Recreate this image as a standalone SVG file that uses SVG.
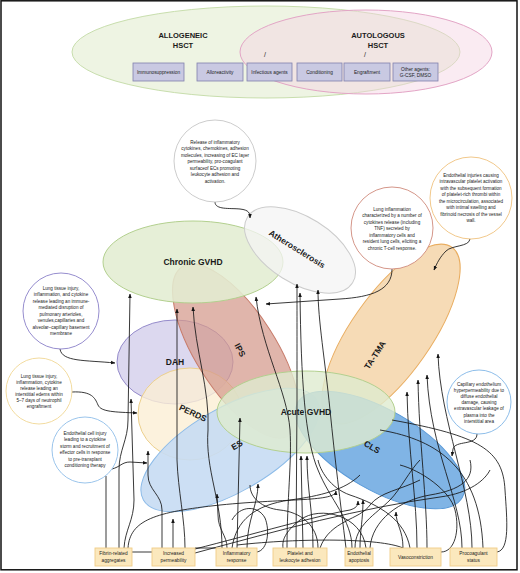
<svg xmlns="http://www.w3.org/2000/svg" width="520" height="573" viewBox="0 0 520 573">
<style>
.lbl{font-family:"Liberation Sans",Arial,sans-serif;font-weight:bold;fill:#1a1a1a;text-anchor:middle}
.big{font-size:8.5px}
.top{font-size:7.5px}
.sm{font-family:"Liberation Sans",Arial,sans-serif;font-size:4.6px;fill:#222;text-anchor:middle}
.bx{font-family:"Liberation Sans",Arial,sans-serif;font-size:4.8px;fill:#222;text-anchor:middle}
.tbox{fill:#c9c9e2;stroke:#8080ad;stroke-width:0.8}
.bbox{fill:#fbe8bd;stroke:#efcd87;stroke-width:0.9}
.c{fill:none;stroke:#151515;stroke-width:0.85}
.info{fill:#fff;stroke-width:0.9}
</style>
<defs>
<marker id="ah" viewBox="0 0 10 10" refX="9" refY="5" markerUnits="userSpaceOnUse" markerWidth="4.5" markerHeight="4.5" orient="auto"><path d="M0,1 L10,5 L0,9 z" fill="#151515"/></marker>
</defs>
<rect x="0" y="0" width="520" height="573" fill="#fff"/>
<rect x="1" y="0.8" width="516" height="569" fill="none" stroke="#111" stroke-width="1.5"/>

<g id="hsct">
<ellipse cx="266" cy="52" rx="194" ry="46" fill="#eef4e3" stroke="#c8dead" stroke-width="1"/>
<ellipse cx="366" cy="52" rx="126" ry="42" fill="#f5d3e3" fill-opacity="0.45" stroke="#e3a5c6" stroke-width="1"/>
<text class="lbl top" x="183" y="38">ALLOGENEIC</text>
<text class="lbl top" x="183" y="48">HSCT</text>
<text class="lbl top" x="378" y="38">AUTOLOGOUS</text>
<text class="lbl top" x="378" y="48">HSCT</text>
<text class="bx" x="265" y="57" style="font-size:7px">/</text>
<text class="bx" x="365" y="57" style="font-size:7px">/</text>
</g>
<g id="agents">
<rect class="tbox" x="133" y="63" width="51" height="18"/><text class="bx" x="158.5" y="73.8">Immunosuppression</text>
<rect class="tbox" x="197" y="63" width="46" height="18"/><text class="bx" x="220" y="73.8">Alloreactivity</text>
<rect class="tbox" x="247" y="63" width="45" height="18"/><text class="bx" x="269.5" y="73.8">Infectious agents</text>
<rect class="tbox" x="297" y="63" width="45" height="18"/><text class="bx" x="319.5" y="73.8">Conditioning</text>
<rect class="tbox" x="344" y="63" width="46" height="18"/><text class="bx" x="367" y="73.8">Engraftment</text>
<rect class="tbox" x="393" y="63" width="45" height="18"/><text class="bx" x="415.5" y="70.5">Other agents:</text><text class="bx" x="415.5" y="77">G-CSF, DMSO</text>
</g>

<g id="ellipses">
<g id="dah"><ellipse cx="175" cy="362" rx="58" ry="42" fill="#dcd8ef" stroke="#958bcb" stroke-width="1"/></g>
<g id="perds"><ellipse cx="190" cy="414" rx="52" ry="46" fill="#fbefd4" fill-opacity="0.8" stroke="#ecd08d" stroke-width="1"/></g>
<g id="ips"><ellipse cx="236" cy="351" rx="100" ry="40" transform="rotate(57.5 236 351)" fill="#d4988b" fill-opacity="0.72" stroke="#c77b6a" stroke-width="1"/></g>
<g id="chronic-gvhd"><ellipse cx="193" cy="262" rx="90" ry="41" fill="#e2edd2" fill-opacity="0.88" stroke="#b3d08f" stroke-width="1"/></g>
<g id="atherosclerosis"><ellipse cx="300" cy="250" rx="62" ry="33" transform="rotate(32 300 250)" fill="#f4f4f4" fill-opacity="0.75" stroke="#cccccc" stroke-width="1"/></g>
<g id="ta-tma"><ellipse cx="391" cy="334" rx="106" ry="40" transform="rotate(-55 391 334)" fill="#f5d7ae" fill-opacity="0.9" stroke="#e9ad60" stroke-width="1"/></g>
<g id="es"><ellipse cx="230" cy="450" rx="100" ry="42" transform="rotate(-30 230 450)" fill="#c7dcf3" fill-opacity="0.9" stroke="#8cbbe8" stroke-width="1"/></g>
<g id="cls"><ellipse cx="380" cy="450" rx="95" ry="40" transform="rotate(30 380 450)" fill="#72ace2" fill-opacity="0.9" stroke="#5a9ad8" stroke-width="1"/></g>
<g id="acute-gvhd"><ellipse cx="306" cy="412" rx="89" ry="41" fill="#dfebcf" fill-opacity="0.8" stroke="#b3d08f" stroke-width="1"/></g>
</g>

<g id="connectors">
<path class="c" marker-end="url(#ah)" d="M215 202 C215 210 230 208 240 209 C249 210 250 213 250 218"/>
<path class="c" marker-end="url(#ah)" d="M392 269 C392 290 372 297 340 299 L266 304"/>
<path class="c" marker-end="url(#ah)" d="M470 239 C469 247 452 245 446 251 C440 257 437 263 434 270"/>
<path class="c" marker-end="url(#ah)" d="M60 349 C62 362 85 360 115 363"/>
<path class="c" marker-end="url(#ah)" d="M72 392 C92 391 95 398 98 405 C101 412 115 412 137 413"/>
<path class="c" marker-end="url(#ah)" d="M112 469 C120 467 122 462 130 462 L147 463"/>
<path class="c" marker-end="url(#ah)" d="M477 434 C477 446 455 440 453 449 L452 456"/>

<path class="c" marker-end="url(#ah)" d="M119 548 L119 470 C119 450 128 440 128 420 L130 294"/>
<path class="c" d="M106 548 L106 476"/>
<path class="c" marker-end="url(#ah)" d="M124 548 C125 530 134 520 134 500 L131 399"/>
<path class="c" marker-end="url(#ah)" d="M128 548 C130 520 155 512 220 505 C290 498 335 502 336 491"/>
<path class="c" marker-end="url(#ah)" d="M162 548 L162 510 C162 495 148 490 148 475 L148 451"/>
<path class="c" marker-end="url(#ah)" d="M173 548 L173 519"/>
<path class="c" marker-end="url(#ah)" d="M185 548 C185 520 178 490 177 460 L177 309"/>
<path class="c" marker-end="url(#ah)" d="M195 549 C250 535 320 515 350 510 C356 508 358 506 358 501"/>
<path class="c" d="M195 553 C280 530 360 508 440 497 C470 493 485 480 490 470"/>
<path class="c" d="M132 552 L152 552"/>
<path class="c" d="M195 548 L216 548"/>
<path class="c" marker-end="url(#ah)" d="M222 548 C222 500 205 470 208 430 C210 390 195 350 193 307"/>
<path class="c" marker-end="url(#ah)" d="M227 548 C227 535 218 530 218 515 L217 494"/>
<path class="c" marker-end="url(#ah)" d="M237 548 L240 418"/>
<path class="c" marker-end="url(#ah)" d="M247 548 C247 520 258 505 258 484"/>
<path class="c" d="M257 552 C268 550 270 530 265 518 C258 505 240 505 232 520"/>
<path class="c" d="M237 545 C300 538 380 538 403 548"/>
<path class="c" d="M232 548 C236 520 255 505 290 500 C320 496 345 490 360 475"/>
<path class="c" d="M318 548 C318 525 300 512 280 510 C262 508 250 498 250 485"/>
<path class="c" d="M355 548 C355 525 375 515 390 500 C400 490 410 470 420 460"/>
<path class="c" d="M441 552 C455 552 460 530 455 510 C450 490 420 470 400 465"/>
<path class="c" d="M410 548 C405 520 380 505 350 495 C330 488 320 470 318 460"/>
<path class="c" marker-end="url(#ah)" d="M287 548 C287 500 292 460 290 430 C287 390 262 350 256 297"/>
<path class="c" marker-end="url(#ah)" d="M296 548 L297 400 C297 340 297 310 297 284"/>
<path class="c" marker-end="url(#ah)" d="M303 548 L301 456"/>
<path class="c" marker-end="url(#ah)" d="M313 548 C313 510 307 490 307 456"/>
<path class="c" marker-end="url(#ah)" d="M352 548 C352 520 330 500 318 470 C305 440 301 380 300 293"/>
<path class="c" marker-end="url(#ah)" d="M346 548 C340 500 335 460 330 410 C325 360 318 320 318 290"/>
<path class="c" marker-end="url(#ah)" d="M360 548 C360 530 363 520 363 500"/>
<path class="c" d="M366 548 C362 515 320 505 300 520 C285 532 282 540 283 548"/>
<path class="c" d="M320 548 C330 520 360 520 370 505 C380 492 400 490 420 480"/>
<path class="c" marker-end="url(#ah)" d="M403 548 C403 530 396 525 396 512"/>
<path class="c" marker-end="url(#ah)" d="M417 548 C417 500 408 450 407 392"/>
<path class="c" marker-end="url(#ah)" d="M427 548 C427 500 419 440 418 380"/>
<path class="c" marker-end="url(#ah)" d="M462 548 C462 500 430 450 427 375"/>
<path class="c" marker-end="url(#ah)" d="M472 548 C472 490 440 420 438 354"/>
<path class="c" d="M483 548 C480 470 440 440 380 430"/>
<path class="c" d="M497 552 C510 550 507 520 505 490 C503 450 480 436 392 420"/>
<path class="c" d="M370 548 C372 520 400 500 430 495 C460 490 475 480 470 460"/>
</g>

<g id="labels">
<text class="lbl big" x="193" y="265">Chronic GVHD</text>
<text class="lbl big" x="297" y="252" transform="rotate(32 297 249)">Atherosclerosis</text>
<text class="lbl big" x="175" y="365">DAH</text>
<text class="lbl big" x="240" y="353" transform="rotate(62 240 350)">IPS</text>
<text class="lbl big" x="193" y="416" transform="rotate(25 193 413)">PERDS</text>
<text class="lbl big" x="375" y="358" transform="rotate(-57 375 355)">TA-TMA</text>
<text class="lbl big" x="237" y="448" transform="rotate(-30 237 445)">ES</text>
<text class="lbl big" x="372" y="450" transform="rotate(30 372 447)">CLS</text>
<text class="lbl big" x="306" y="415">Acute GVHD</text>
</g>

<g id="info-atherosclerosis">
<circle class="info" cx="215" cy="161" r="41" stroke="#c6c6c6"/>
<text class="sm" x="215" y="143.5">Release of inflammatory</text>
<text class="sm" x="215" y="150">cytokines, chemokines, adhesion</text>
<text class="sm" x="215" y="156.5">molecules, increasing of EC layer</text>
<text class="sm" x="215" y="163">permeability, pro-coagulant</text>
<text class="sm" x="215" y="169.5">surfaceof ECs promoting</text>
<text class="sm" x="215" y="176">leukocyte adhesion and</text>
<text class="sm" x="215" y="182.5">activation.</text>
</g>
<g id="info-ips">
<circle class="info" cx="392" cy="228" r="41" stroke="#cf8a7c"/>
<text class="sm" x="392" y="210.5">Lung inflammation</text>
<text class="sm" x="392" y="217">characterized by a number of</text>
<text class="sm" x="392" y="223.5">cytokines release (including</text>
<text class="sm" x="392" y="230">TNF) secreted by</text>
<text class="sm" x="392" y="236.5">inflammatory cells and</text>
<text class="sm" x="392" y="243">resident lung cells, eliciting a</text>
<text class="sm" x="392" y="249.5">chronic T-cell response.</text>
</g>
<g id="info-ta-tma">
<circle class="info" cx="471" cy="198" r="41" stroke="#efc27e"/>
<text class="sm" x="471" y="176.5">Endothelial injuries causing</text>
<text class="sm" x="471" y="183">intravascular platelet activation</text>
<text class="sm" x="471" y="189.5">with the subsequent formation</text>
<text class="sm" x="471" y="196">of platelet-rich thrombi within</text>
<text class="sm" x="471" y="202.5">the microcirculation, associated</text>
<text class="sm" x="471" y="209">with intimal swelling and</text>
<text class="sm" x="471" y="215.5">fibrinoid necrosis of the vessel</text>
<text class="sm" x="471" y="222">wall.</text>
</g>
<g id="info-dah">
<circle class="info" cx="61" cy="311" r="38" stroke="#8a80c8"/>
<text class="sm" x="61" y="289.5">Lung tissue injury,</text>
<text class="sm" x="61" y="296">inflammation, and cytokine</text>
<text class="sm" x="61" y="302.5">release leading an immune-</text>
<text class="sm" x="61" y="309">mediated disruption of</text>
<text class="sm" x="61" y="315.5">pulmonary arterioles,</text>
<text class="sm" x="61" y="322">venules,capillaries and</text>
<text class="sm" x="61" y="328.5">alveolar–capillary basement</text>
<text class="sm" x="61" y="335">membrane</text>
</g>
<g id="info-perds">
<circle class="info" cx="39" cy="391" r="33" stroke="#f0d794"/>
<text class="sm" x="39" y="377.5">Lung tissue injury,</text>
<text class="sm" x="39" y="384">inflammation, cytokine</text>
<text class="sm" x="39" y="390">release leading an</text>
<text class="sm" x="39" y="396">interstitial edems within</text>
<text class="sm" x="39" y="402">5–7 days of neutrophil</text>
<text class="sm" x="39" y="408">engraftment</text>
</g>
<g id="info-es">
<circle class="info" cx="85" cy="450" r="33" stroke="#8fbde9"/>
<text class="sm" x="85" y="434.5">Endothelial cell injury</text>
<text class="sm" x="85" y="441">leading to a cytokine</text>
<text class="sm" x="85" y="447.5">storm and recruitment of</text>
<text class="sm" x="85" y="454">effector cells in response</text>
<text class="sm" x="85" y="460.5">to pre-transplant</text>
<text class="sm" x="85" y="467">conditioning therapy</text>
</g>
<g id="info-cls">
<circle class="info" cx="479" cy="402" r="32" stroke="#80b5e7"/>
<text class="sm" x="479" y="385.5">Capillary endothelium</text>
<text class="sm" x="479" y="391.7">hyperpermeability due to</text>
<text class="sm" x="479" y="397.9">diffuse endothelial</text>
<text class="sm" x="479" y="404.1">damage, causing</text>
<text class="sm" x="479" y="410.3">extravascular leakage of</text>
<text class="sm" x="479" y="416.5">plasma into the</text>
<text class="sm" x="479" y="422.7">interstitial area</text>
</g>

<g id="mechanisms">
<g id="fibrin"><rect class="bbox" x="95" y="548" width="37" height="18"/><text class="bx" x="113.5" y="555">Fibrin-related</text><text class="bx" x="113.5" y="561.5">aggregates</text></g>
<g id="permeability"><rect class="bbox" x="152" y="548" width="43" height="18"/><text class="bx" x="173.5" y="555">Increased</text><text class="bx" x="173.5" y="561.5">permeability</text></g>
<g id="inflammatory"><rect class="bbox" x="216" y="548" width="41" height="18"/><text class="bx" x="236.5" y="555">Inflammatory</text><text class="bx" x="236.5" y="561.5">response</text></g>
<g id="platelet"><rect class="bbox" x="273" y="548" width="54" height="18"/><text class="bx" x="300" y="555">Platelet and</text><text class="bx" x="300" y="561.5">leukocyte adhesion</text></g>
<g id="apoptosis"><rect class="bbox" x="345" y="548" width="28" height="18"/><text class="bx" x="359" y="555">Endothelial</text><text class="bx" x="359" y="561.5">apoptosis</text></g>
<g id="vasoconstriction"><rect class="bbox" x="390" y="548" width="51" height="18"/><text class="bx" x="415.5" y="558.5">Vasoconstriction</text></g>
<g id="procoagulant"><rect class="bbox" x="450" y="548" width="47" height="18"/><text class="bx" x="473.5" y="555">Procoagulant</text><text class="bx" x="473.5" y="561.5">status</text></g>
</g>
</svg>
